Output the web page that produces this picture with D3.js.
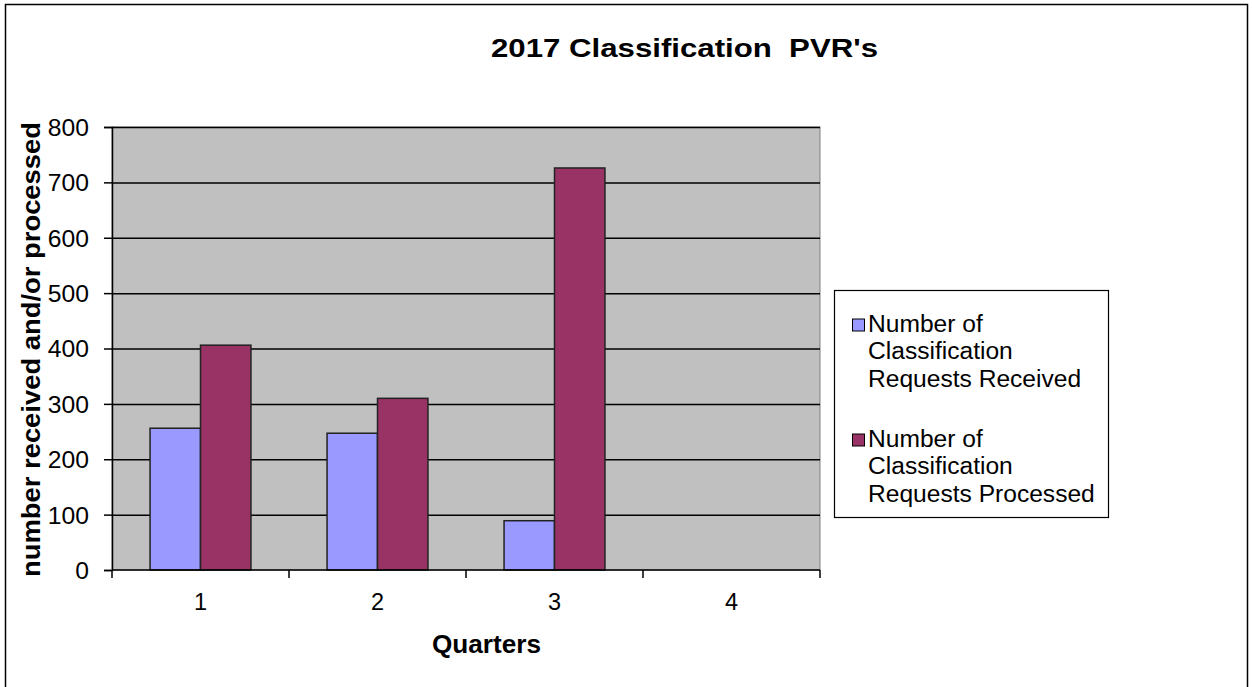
<!DOCTYPE html>
<html><head><meta charset="utf-8">
<script src="https://cdn.jsdelivr.net/npm/d3@7"></script>
<style>body{margin:0;background:#fff;}svg{display:block;font-family:"Liberation Sans",Arial,sans-serif;}</style>
</head><body>
<svg id="c" width="1252" height="687"></svg>
<script>
const quarters = ["1","2","3","4"];
const received = [256, 247, 89, null];
const processed = [406, 310, 726, null];
const seriesNames = ["Number of Classification Requests Received", "Number of Classification Requests Processed"];
const seriesLines = [["Number of","Classification","Requests Received"],["Number of","Classification","Requests Processed"]];
const colors = ["#9999ff", "#993366"];
const yTicks = [0,100,200,300,400,500,600,700,800];

const svg = d3.select("#c");
svg.append("rect").attr("x",5.5).attr("y",4.5).attr("width",1242).attr("height",700).attr("fill","#fff").attr("stroke","#000").attr("stroke-width",1.5);

function stretch(sel, factor){
  sel.each(function(){
    const w = this.getComputedTextLength();
    d3.select(this).attr("textLength", w*factor).attr("lengthAdjust","spacingAndGlyphs");
  });
}
function fit(sel, w){ sel.attr("textLength", w).attr("lengthAdjust","spacingAndGlyphs"); }

const L=112, R=820, T=127, B=570;
const x = d3.scaleBand().domain(quarters).range([L,R]).paddingInner(0.43).paddingOuter(0.215);
const xs = d3.scaleBand().domain([0,1]).range([0,x.bandwidth()]);
const y = d3.scaleLinear().domain([0,800]).range([B,T]);

svg.append("rect").attr("x",L).attr("y",T).attr("width",R-L).attr("height",B-T).attr("fill","#c0c0c0").attr("stroke","#808080");

svg.append("g").selectAll("line").data(yTicks.slice(1)).join("line")
  .attr("x1",L).attr("x2",R).attr("y1",d=>y(d)+0.5).attr("y2",d=>y(d)+0.5).attr("stroke","#000").attr("stroke-width",1.5);

const data = quarters.map((q,i)=>({q, vals:[received[i],processed[i]]}));
const g = svg.append("g");
data.forEach(d=>{
  d.vals.forEach((v,j)=>{
    if(v==null) return;
    g.append("rect").attr("x",x(d.q)+xs(j)).attr("y",y(v)).attr("width",xs.bandwidth()).attr("height",y(0)-y(v))
      .attr("fill",colors[j]).attr("stroke","#222").attr("stroke-width",1.5);
  });
});

// y axis
const ya = svg.append("g").attr("transform",`translate(${L},0)`)
  .call(d3.axisLeft(y).tickValues(yTicks).tickSize(8).tickPadding(15));
ya.select(".domain").attr("stroke","#000").attr("stroke-width",1.5);
ya.selectAll(".tick line").attr("stroke","#000").attr("stroke-width",1.5).attr("x2",0).attr("x1",-8);
ya.selectAll("text").attr("font-size",23.5).attr("fill","#000").attr("font-family","Liberation Sans, Arial, sans-serif").attr("dy","0.36em");
stretch(ya.selectAll("text"),1.05);

// x axis
const xBounds = d3.scaleLinear().domain([0,4]).range([L,R]);
const xa = svg.append("g").attr("transform",`translate(0,${B})`);
xa.append("line").attr("x1",L).attr("x2",R).attr("y1",0).attr("y2",0).attr("stroke","#000").attr("stroke-width",1.5);
xa.selectAll("line.t").data([0,1,2,3,4]).join("line").attr("class","t")
  .attr("x1",d=>xBounds(d)).attr("x2",d=>xBounds(d)).attr("y1",0).attr("y2",8).attr("stroke","#000").attr("stroke-width",1.5);
xa.selectAll("text").data(quarters).join("text")
  .attr("x",d=>x(d)+x.bandwidth()/2).attr("y",40).attr("text-anchor","middle").attr("font-size",23.5).text(d=>d);

fit(svg.append("text").attr("x",486.5).attr("y",653).attr("text-anchor","middle").attr("font-size",25).attr("font-weight","bold").text("Quarters"),109);
fit(svg.append("text").attr("transform","translate(40,349.5) rotate(-90)").attr("text-anchor","middle").attr("font-size",25).attr("font-weight","bold").text("number received and/or processed"),455);
fit(svg.append("text").attr("x",684.5).attr("y",57).attr("text-anchor","middle").attr("font-size",26.5).attr("font-weight","bold").attr("xml:space","preserve").text("2017 Classification  PVR's"),387);

// legend
const lg = svg.append("g");
lg.append("rect").attr("x",834.5).attr("y",290.5).attr("width",274).attr("height",227).attr("fill","#fff").attr("stroke","#000").attr("stroke-width",1.2);
seriesLines.forEach((lines,i)=>{
  const base = 331.5 + i*115;
  lg.append("rect").attr("x",852.5).attr("y",base-12.5).attr("width",12).attr("height",12).attr("fill",colors[i]).attr("stroke","#000");
  lines.forEach((t,k)=>{
    const tx = lg.append("text").attr("x",868).attr("y",base+k*27.5).attr("font-size",23.3).attr("fill","#000").text(t);
    stretch(tx,1.055);
  });
});
</script>
</body></html>
